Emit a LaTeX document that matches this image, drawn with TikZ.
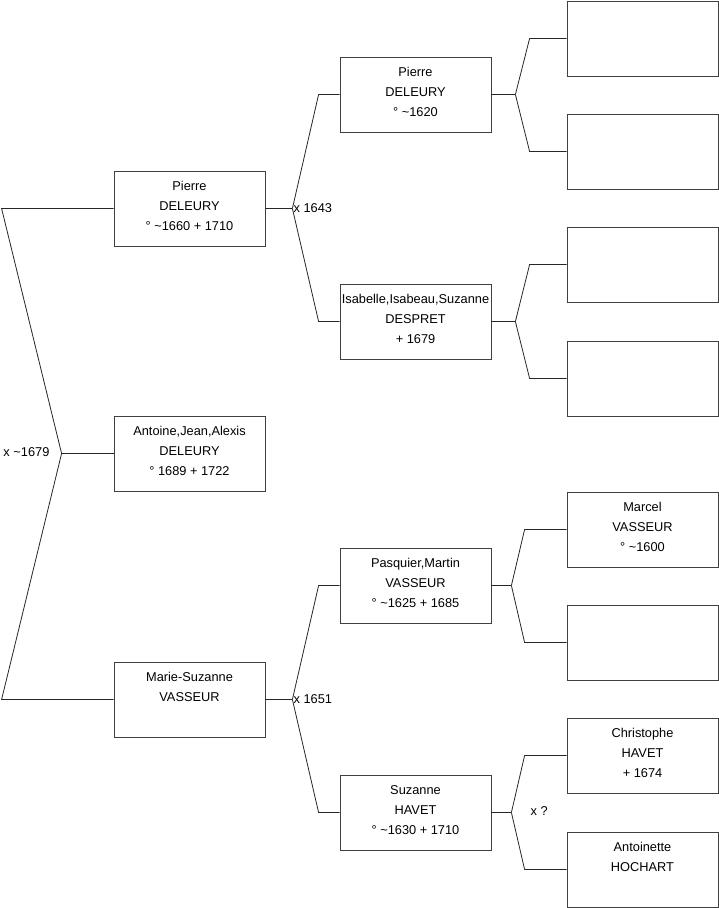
\documentclass[tikz,border=0pt]{standalone}
\usepackage{fontspec}
\setmainfont{Liberation Sans}
\newcommand\tl{\textasciitilde}
\tikzset{
  person/.style={draw=black!75, line width=0.8pt, minimum width=151pt, minimum height=75pt, inner sep=0pt},
  ptext/.style={anchor=north, align=center, inner sep=0pt, font=\fontsize{12.8}{20}\selectfont},
  link/.style={draw=black!85, line width=0.8pt},
  mlabel/.style={anchor=west, inner sep=0pt, font=\fontsize{12.8}{14}\selectfont}
}
% #1 name, #2 left x, #3 top y, #4 text
\newcommand\pbox[4]{%
  \node[person] (#1) at (#2+75.5,#3+37.5) {};
  \node[ptext] (#1t) at ([yshift=-5.8pt]#1.north) {#4};
}
\newcommand\ebox[3]{%
  \node[person] (#1) at (#2+75.5,#3+37.5) {};
}
\begin{document}
\begin{tikzpicture}[x=1pt,y=-1pt]
\useasboundingbox (0,0) rectangle (719,908);
% generation 1
\pbox{A}{114}{171}{\strut Pierre\\\strut DELEURY\\\strut ° \tl1660 + 1710}
\pbox{B}{114}{416}{\strut Antoine,Jean,Alexis\\\strut DELEURY\\\strut ° 1689 + 1722}
\pbox{C}{114}{662}{\strut Marie-Suzanne\\\strut VASSEUR}
% generation 2
\pbox{D}{340}{57}{\strut Pierre\\\strut DELEURY\\\strut ° \tl1620}
\pbox{E}{340}{284}{\strut Isabelle,Isabeau,Suzanne\\\strut DESPRET\\\strut + 1679}
\pbox{F}{340}{548}{\strut Pasquier,Martin\\\strut VASSEUR\\\strut ° \tl1625 + 1685}
\pbox{G}{340}{775}{\strut Suzanne\\\strut HAVET\\\strut ° \tl1630 + 1710}
% generation 3
\ebox{H1}{567}{1}
\ebox{H2}{567}{114}
\ebox{H3}{567}{227}
\ebox{H4}{567}{341}
\pbox{H5}{567}{492}{\strut Marcel\\\strut VASSEUR\\\strut ° \tl1600}
\ebox{H6}{567}{605}
\pbox{H7}{567}{718}{\strut Christophe\\\strut HAVET\\\strut + 1674}
\pbox{H8}{567}{832}{\strut Antoinette\\\strut HOCHART}
% root junction
\coordinate (L1) at ([xshift=-112pt]A.west);
\coordinate (L2) at ([xshift=-112pt]C.west);
\coordinate (T0) at ([xshift=-52pt]B.west);
\draw[link] (A.west) -- (L1) -- (T0) -- (L2) -- (C.west);
\draw[link] (T0) -- (B.west);
% junction helper: parent, tip shift, child1, child2, branch shift, tip name
\newcommand\junction[6]{%
  \coordinate (#6) at ([xshift=#2]#1.east);
  \coordinate (#6a) at ([xshift=-#5]#3.west);
  \coordinate (#6b) at ([xshift=-#5]#4.west);
  \draw[link] (#1.east) -- (#6);
  \draw[link] (#6) -- (#6a) -- (#3.west);
  \draw[link] (#6) -- (#6b) -- (#4.west);
}
\junction{A}{27pt}{D}{E}{21pt}{TA}
\junction{C}{27pt}{F}{G}{21pt}{TC}
\junction{D}{24pt}{H1}{H2}{37pt}{TD}
\junction{E}{24pt}{H3}{H4}{37pt}{TE}
\junction{F}{20pt}{H5}{H6}{42pt}{TF}
\junction{G}{20pt}{H7}{H8}{42pt}{TG}
% marriage labels
\node[mlabel, anchor=east] (m0) at ([xshift=-12pt,yshift=1pt]T0) {x \tl1679};
\node[mlabel] (m1) at ([xshift=1pt]TA) {x 1643};
\node[mlabel] (m2) at ([xshift=1pt]TC) {x 1651};
\node[mlabel] (m3) at ([xshift=19pt,yshift=1.5pt]TG) {x ?};
\end{tikzpicture}
\end{document}
